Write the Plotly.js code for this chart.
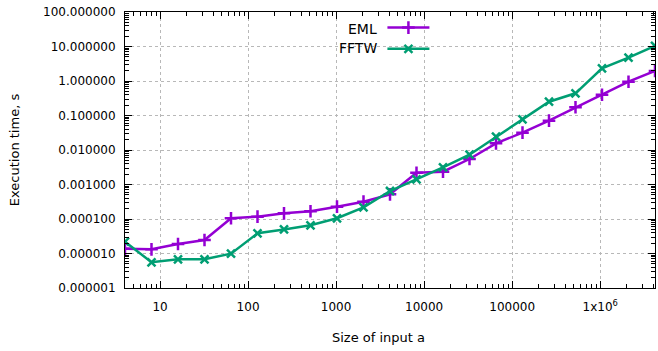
<!DOCTYPE html>
<html>
<head>
<meta charset="utf-8">
<script src="https://cdn.plot.ly/plotly-3.0.1.min.js"></script>
<style>html,body{margin:0;padding:0;background:#fff}#chart{width:658px;height:351px}</style>
</head>
<body>
<div id="chart"></div>
<script>
const sizes = [4, 8, 16, 32, 64, 128, 256, 512, 1024, 2048, 4096, 8192, 16384, 32768, 65536, 131072, 262144, 524288, 1048576, 2097152, 4194304];
const emlTimes = [1.38e-5, 1.32e-5, 1.88e-5, 2.46e-5, 1.05e-4, 1.17e-4, 1.46e-4, 1.67e-4, 2.28e-4, 3.18e-4, 5.19e-4, 2.2e-3, 2.35e-3, 5.48e-3, 1.56e-2, 3.18e-2, 7.08e-2, 0.173, 0.40, 0.955, 1.95];
const fftwTimes = [2.2e-5, 5.56e-6, 6.8e-6, 6.8e-6, 9.9e-6, 3.85e-5, 5.0e-5, 6.57e-5, 1.05e-4, 2.18e-4, 6.48e-4, 1.41e-3, 3.15e-3, 7.3e-3, 2.43e-2, 7.74e-2, 0.251, 0.44, 2.33, 4.74, 10.5];
const seriesNames = ["EML", "FFTW"];
const xTickVals = [10, 100, 1000, 10000, 100000, 1000000];
const xTickText = ["10", "100", "1000", "10000", "100000", "1x10<sup>6</sup>"];
const yTickVals = [1e-6, 1e-5, 1e-4, 1e-3, 1e-2, 1e-1, 1, 10, 100];
const yTickText = ["0.000001", "0.000010", "0.000100", "0.001000", "0.010000", "0.100000", "1.000000", "10.000000", "100.000000"];
const xTitle = "Size of input a";
const yTitle = "Execution time, s";

const xMinor = [];
for (let e = 0; e <= 6; e++) for (let m = 2; m <= 9; m++) { const v = m * Math.pow(10, e); if (v >= 4 && v <= 4194304) xMinor.push(v); }
const yMinor = [];
for (let e = -6; e <= 1; e++) for (let m = 2; m <= 9; m++) yMinor.push(m * Math.pow(10, e));

const colors = ["#9400d3", "#009e73"];
const font = "DejaVu Sans, Verdana, sans-serif";

const traces = [
  {x: sizes, y: emlTimes, name: seriesNames[0], mode: "lines+markers", type: "scatter",
   line: {color: colors[0], width: 2.5},
   marker: {symbol: "cross-thin", size: 9, color: colors[0], line: {color: colors[0], width: 2.5}}},
  {x: sizes, y: fftwTimes, name: seriesNames[1], mode: "lines+markers", type: "scatter",
   line: {color: colors[1], width: 2.5},
   marker: {symbol: "x-thin", size: 8, color: colors[1], line: {color: colors[1], width: 2.5}}}
];

const axisCommon = {
  type: "log", showline: true, linecolor: "#000", linewidth: 1, mirror: "allticks",
  ticks: "inside", ticklen: 7, tickwidth: 1, tickcolor: "#000",
  showgrid: true, gridcolor: "#b8b8b8", griddash: "dot", gridwidth: 1,
  zeroline: false, tickfont: {family: font, size: 12, color: "#000"}
};

const layout = {
  width: 658, height: 351,
  margin: {l: 125, r: 3, t: 12, b: 63},
  paper_bgcolor: "#fff", plot_bgcolor: "#fff",
  font: {family: font, color: "#000"},
  xaxis: Object.assign({}, axisCommon, {
    range: [Math.log10(4), Math.log10(4194304)],
    tickmode: "array", tickvals: xTickVals, ticktext: xTickText, ticklabelstandoff: 8,
    minor: {tickmode: "array", tickvals: xMinor, ticks: "inside", ticklen: 4, tickcolor: "#000", showgrid: false}
  }),
  yaxis: Object.assign({}, axisCommon, {
    range: [-6, 2],
    tickmode: "array", tickvals: yTickVals, ticktext: yTickText, ticklabelstandoff: 6,
    minor: {tickmode: "array", tickvals: yMinor, ticks: "inside", ticklen: 4, tickcolor: "#000", showgrid: false},
    title: {text: yTitle, font: {family: font, size: 13}, standoff: 20}
  }),
  showlegend: true,
  legend: {x: 0.4857, y: 1, xanchor: "left", yanchor: "top", bgcolor: "rgba(0,0,0,0)",
    font: {family: font, size: 14, color: "rgba(0,0,0,0)"}, itemwidth: 42, tracegroupgap: 0},
  annotations: seriesNames.map((n, i) => ({
    xref: "paper", yref: "paper", x: 0.48, y: 1 - (0.06 + i * 0.07), xanchor: "right", yanchor: "middle",
    text: n, showarrow: false, font: {family: font, size: 14, color: "#000"}
  })).concat([{
    xref: "paper", yref: "paper", x: 0.387, y: -0.178, xanchor: "left", yanchor: "middle",
    text: xTitle, showarrow: false, font: {family: font, size: 13, color: "#000"}
  }])
};

Plotly.newPlot("chart", traces, layout, {displayModeBar: false, staticPlot: true});
</script>
</body>
</html>
